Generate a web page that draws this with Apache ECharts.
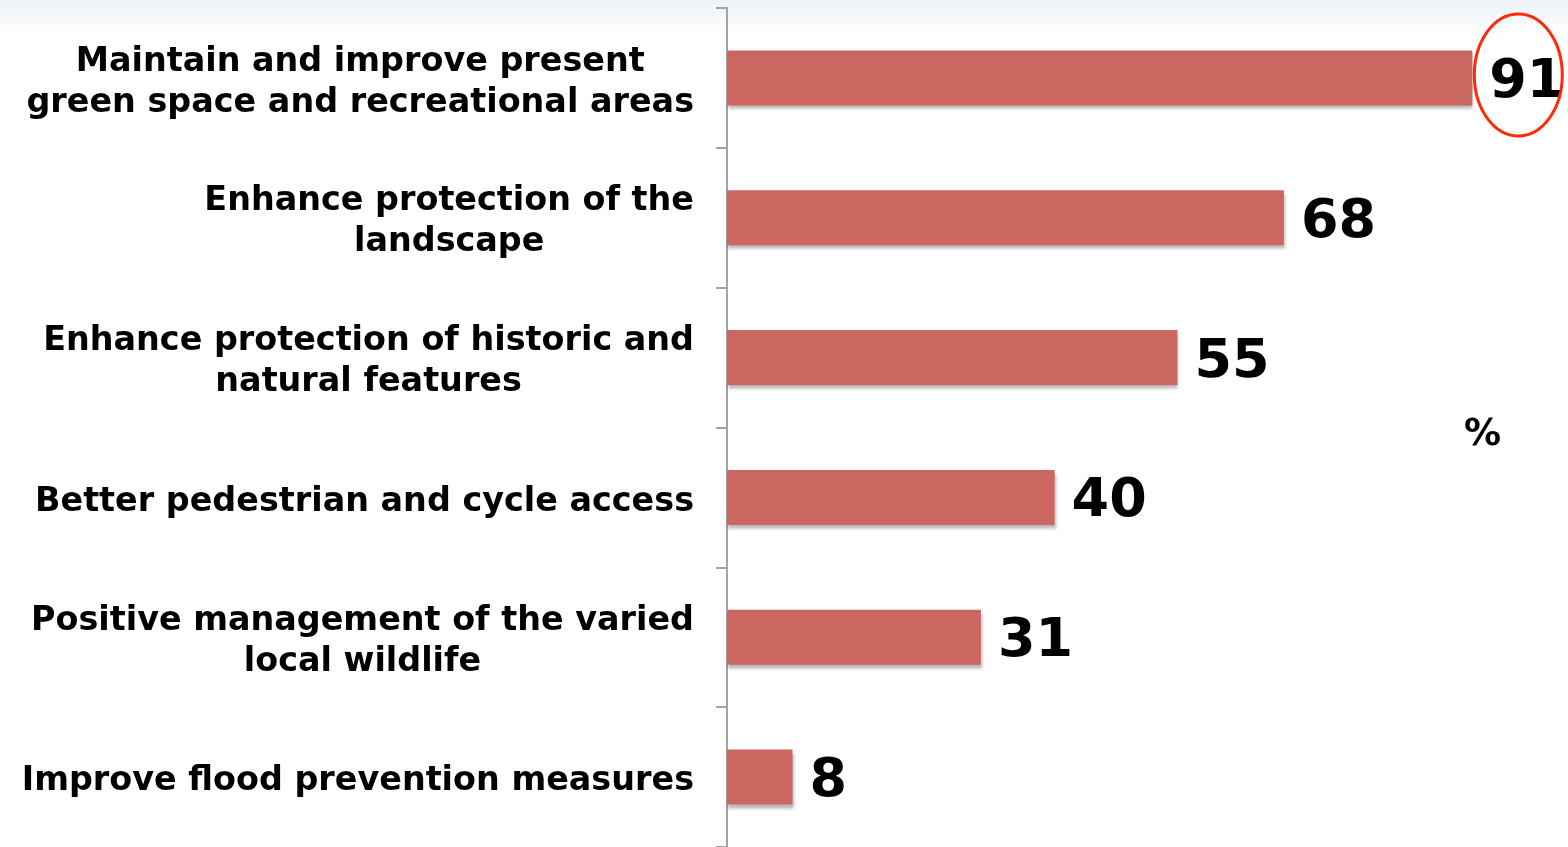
<!DOCTYPE html>
<html>
<head>
<meta charset="utf-8">
<title>Priorities</title>
<script src="https://cdn.jsdelivr.net/npm/echarts@6/dist/echarts.min.js"></script>
<style>
  html, body { margin: 0; padding: 0; background: #fff; }
  #chart { width: 1568px; height: 847px; }
</style>
</head>
<body>
<div id="chart"></div>
<script>
// Survey priorities, share of respondents (%)
const categories = [
  'Maintain and improve present\ngreen space and recreational areas',
  'Enhance protection of the\nlandscape',
  'Enhance protection of historic and\nnatural features',
  'Better pedestrian and cycle access',
  'Positive management of the varied\nlocal wildlife',
  'Improve flood prevention measures'
];
const values = [91, 68, 55, 40, 31, 8];
const unitLabel = '%';
const highlightIndex = 0; // circled value

const FONT = '"DejaVu Sans", Verdana, sans-serif';

const chart = echarts.init(document.getElementById('chart'), null, { renderer: 'canvas' });

const option = {
  backgroundColor: '#ffffff',
  animation: false,
  grid: { left: 727, top: 8, width: 819, bottom: 0, containLabel: false },
  xAxis: {
    type: 'value',
    min: 0,
    max: 100,
    show: false
  },
  yAxis: {
    type: 'category',
    data: categories,
    inverse: true,
    axisLine: { show: true, lineStyle: { color: '#a3a3a3', width: 2 } },
    axisTick: { show: true, length: 11, lineStyle: { color: '#a3a3a3', width: 2 } },
    axisLabel: {
      margin: 33,
      color: '#000',
      fontFamily: FONT,
      fontWeight: 'bold',
      fontSize: 33.4,
      lineHeight: 41,
      padding: [9, 0, 0, 0],
      formatter: function (v) {
        return v.split('\n').map(function (l) { return '{c|' + l + '}'; }).join('\n');
      },
      rich: {
        c: { align: 'center', fontFamily: FONT, fontWeight: 'bold', fontSize: 33.4, lineHeight: 41, color: '#000' }
      }
    },
    splitLine: { show: false }
  },
  series: [{
    type: 'bar',
    data: values,
    barWidth: 55,
    itemStyle: {
      color: '#cc6660',
      borderWidth: 0,
      shadowColor: 'rgba(0,0,0,0.28)',
      shadowBlur: 3,
      shadowOffsetX: 1,
      shadowOffsetY: 4
    },
    label: {
      show: true,
      position: 'right',
      distance: 17,
      offset: [0, 5],
      color: '#000',
      fontFamily: FONT,
      fontWeight: 'bold',
      fontSize: 54
    }
  }],
  graphic: [
    {
      type: 'rect',
      z: -10,
      silent: true,
      shape: { x: 0, y: 0, width: 1568, height: 36 },
      style: {
        fill: new echarts.graphic.LinearGradient(0, 0, 0, 1, [
          { offset: 0, color: '#edf2f7' },
          { offset: 1, color: '#ffffff' }
        ])
      }
    },
    {
      type: 'text',
      left: 1464,
      top: 417,
      style: {
        text: unitLabel,
        fontFamily: FONT,
        fontWeight: 'bold',
        fontSize: 37,
        fill: '#000'
      }
    }
  ]
};

chart.setOption(option);

// Ring around the highlighted value, placed from the bar's own coordinates
const p = chart.convertToPixel({ gridIndex: 0 }, [values[highlightIndex], categories[highlightIndex]]);
chart.setOption({
  graphic: [
    {}, {},
    {
      type: 'ellipse',
      silent: true,
      z: 100,
      shape: { cx: p[0] + 46, cy: p[1] - 3, rx: 44, ry: 61 },
      style: { fill: 'none', stroke: '#ff2a0a', lineWidth: 3 }
    }
  ]
});
</script>
</body>
</html>
